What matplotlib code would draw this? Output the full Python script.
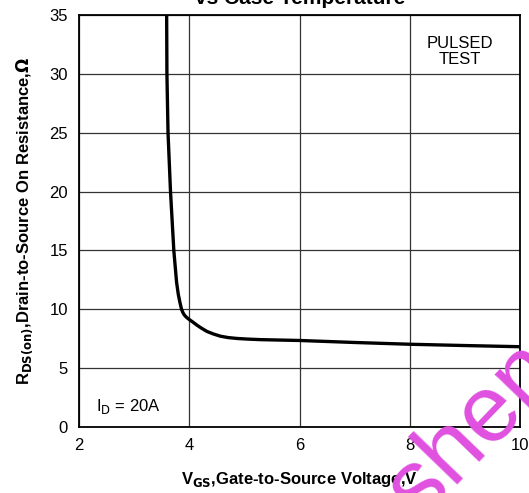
import matplotlib
matplotlib.use("Agg")
import matplotlib.pyplot as plt

plt.rcParams['font.family'] = ['Liberation Sans', 'DejaVu Sans']

vgs = [3.59, 3.595, 3.615, 3.66, 3.72, 3.77, 3.80, 3.83, 3.86, 3.885, 3.91, 3.94,
       3.97, 4.0, 4.07, 4.14, 4.22, 4.32, 4.44, 4.56, 4.7, 4.87, 5.05, 5.3,
       5.6, 6.0, 7.0, 8.0, 9.0, 10.0]
rds = [35.0, 30.0, 25.0, 20.0, 15.0, 12.3, 11.3, 10.6, 10.0, 9.72, 9.52, 9.36,
       9.24, 9.13, 8.9, 8.65, 8.4, 8.12, 7.9, 7.72, 7.6, 7.52, 7.47, 7.42,
       7.39, 7.35, 7.18, 7.03, 6.92, 6.82]

xticks = [2, 4, 6, 8, 10]
yticks = [0, 5, 10, 15, 20, 25, 30, 35]

fig = plt.figure(figsize=(5.29, 4.93), dpi=100)
ax = fig.add_axes([79/529, 1 - 427/493, (520-79)/529, (427-15)/493])
ax.plot(vgs, rds, color='black', lw=2.4, solid_joinstyle='round')
ax.set_xlim(2, 10)
ax.set_ylim(0, 35)
ax.set_xticks(xticks)
ax.set_yticks(yticks)
ax.grid(True, color='#333333', lw=0.9)
ax.tick_params(length=0, labelsize=12, pad=8)
for s in ax.spines.values():
    s.set_linewidth(1.3)
    s.set_color('black')

ax.set_xlabel(r'V$_{\mathbf{GS}}$,Gate-to-Source Voltage,V', fontsize=12, fontweight='bold', labelpad=12)
ax.set_ylabel(r'R$_{\mathbf{DS(on)}}$,Drain-to-Source On Resistance,$\mathbf{\Omega}$', fontsize=12, fontweight='bold', labelpad=10)

ax.text(2.3, 1.7, r'I$_{\mathrm{D}}$ = 20A', fontsize=12, ha='left', va='center')
ax.text(8.91, 31.9, 'PULSED\nTEST', fontsize=12, ha='center', va='center', linespacing=1.05)

fig.text(300/529, 1 + 2/493, 'vs Case Temperature', fontsize=15, fontweight='bold', ha='center', va='center')

fig.text(455/529, 1 - 450/493, 'Yasheng', fontsize=68, color='#e050e0', rotation=46,
         ha='center', va='center')

fig.savefig('out.png', dpi=100)
